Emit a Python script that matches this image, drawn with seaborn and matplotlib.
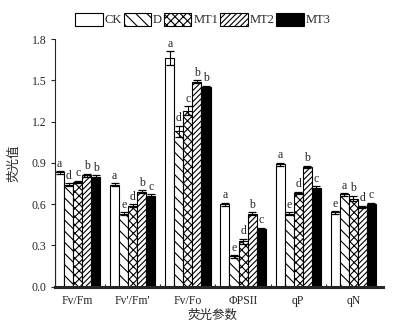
import numpy as np
import pandas as pd
import matplotlib
matplotlib.use("Agg")
import matplotlib.pyplot as plt
import seaborn as sns
from matplotlib.patches import Patch

params=["Fv/Fm","Fv'/Fm'","Fv/Fo","ΦPSII","qP","qN"]
groups=["CK","D","MT1","MT2","MT3"]
vals={
    "CK":[0.83,0.74,1.66,0.60,0.89,0.54],
    "D":[0.74,0.53,1.13,0.22,0.53,0.67],
    "MT1":[0.76,0.59,1.28,0.33,0.68,0.64],
    "MT2":[0.81,0.69,1.49,0.53,0.87,0.58],
    "MT3":[0.80,0.66,1.45,0.42,0.72,0.60],
}
errs={
    "CK":[0.01,0.01,0.05,0.01,0.01,0.01],
    "D":[0.01,0.01,0.04,0.01,0.01,0.01],
    "MT1":[0.01,0.01,0.03,0.02,0.01,0.02],
    "MT2":[0.01,0.01,0.01,0.01,0.01,0.01],
    "MT3":[0.01,0.01,0.01,0.01,0.01,0.01],
}
letters={
    "CK":["a","a","a","a","a","e"],
    "D":["d","e","d","e","e","a"],
    "MT1":["c","d","c","d","d","b"],
    "MT2":["b","b","b","b","b","d"],
    "MT3":["b","c","b","c","c","c"],
}
hatches={"CK":"","D":"\\\\\\","MT1":"xxxx","MT2":"//////","MT3":""}
faces={"CK":"white","D":"white","MT1":"white","MT2":"white","MT3":"black"}

rows=[]
for g in groups:
    for p,v in zip(params,vals[g]):
        rows.append({"param":p,"grp":g,"val":v})
df=pd.DataFrame(rows)

sns.set_style("ticks")
plt.rcParams['font.family']=['Liberation Serif','Noto Sans CJK SC']
plt.rcParams['hatch.linewidth']=0.8

fg=plt.figure(figsize=(3.99,3.28),dpi=100)
ax=fg.add_axes([0.138,0.126,0.822,0.755])
sns.barplot(data=df,x="param",y="val",hue="grp",order=params,hue_order=groups,
    errorbar=None,width=0.82,ax=ax,legend=False,saturation=1)

bars=ax.patches
k=0
for g in groups:
    for i in range(len(params)):
        b=bars[k];k+=1
        b.set_facecolor(faces[g])
        b.set_edgecolor("black")
        b.set_linewidth(0.8)
        b.set_hatch(hatches[g])
        cx=b.get_x()+b.get_width()/2
        h=b.get_height()
        e=errs[g][i]
        ax.errorbar(cx,h,yerr=e,color="black",lw=0.8,capsize=3,capthick=0.9)
        ax.text(cx,h+e+0.01,letters[g][i],ha="center",va="bottom",fontsize=8.5,
            family="Liberation Serif")

ax.set_ylim(0,1.8)
ax.set_xlim(-0.41,5.54)
ax.set_yticks(np.arange(0,1.81,0.3))
ax.set_yticklabels([f"{v:.1f}" for v in np.arange(0,1.81,0.3)],fontsize=8.5)
ax.set_xticks(range(len(params)))
ax.set_xticklabels(params,fontsize=8.5)
ax.set_xticks(np.arange(0.5,5.5,1),minor=True)
ax.tick_params(axis="x",which="major",length=0,pad=6)
ax.tick_params(axis="x",which="minor",length=2.5,direction="in",width=0.8)
ax.tick_params(axis="y",length=3,width=0.8,pad=3)
for s in ["top","right"]:
    ax.spines[s].set_visible(False)
ax.spines["left"].set_linewidth(0.8)
ax.spines["bottom"].set_linewidth(2.2)
ax.set_xlabel("荧光参数",family="Noto Sans CJK SC",fontsize=9)
ax.xaxis.set_label_coords(0.48,-0.09)
ax.set_ylabel("荧光值",family="Noto Sans CJK SC",fontsize=9,labelpad=8)

hs=[Patch(facecolor=faces[g],edgecolor="black",hatch=hatches[g],lw=0.8) for g in groups]
fg.legend(hs,groups,loc="center",bbox_to_anchor=(0.508,0.94),ncol=5,frameon=False,
    fontsize=9,handlelength=2.2,handleheight=1.2,handletextpad=0.15,columnspacing=0.15,
    borderaxespad=0)

fg.savefig("out.png",dpi=100)
